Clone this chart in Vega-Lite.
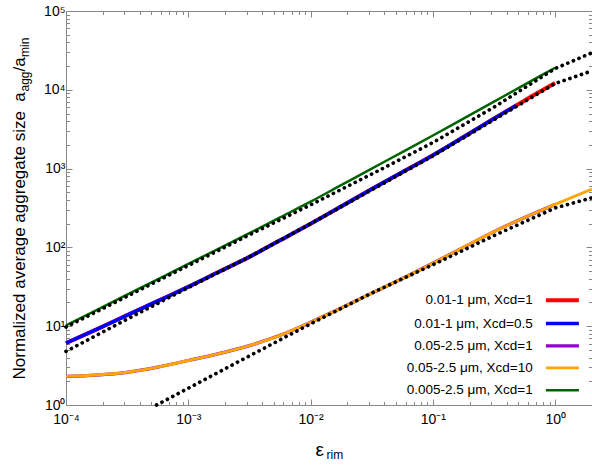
{
  "$schema": "https://vega.github.io/schema/vega-lite/v6.json",
  "width": 526,
  "height": 394,
  "autosize": "none",
  "padding": {"left": 66, "top": 11, "right": 0, "bottom": 61},
  "config": {
    "view": {"stroke": null},
    "font": "Liberation Sans",
    "axis": {
      "labelFont": "Liberation Sans",
      "titleFont": "Liberation Sans",
      "titleFontWeight": "normal",
      "grid": false,
      "domainColor": "#888888",
      "tickColor": "#888888",
      "labelColor": "#000000",
      "titleColor": "#000000",
      "labelFlush": false,
      "labelOverlap": false,
      "labelFontSize": 14,
      "domainWidth": 1,
      "tickWidth": 1
    }
  },
  "datasets": {
    "curves": [
      {"series": "0.005-2.5 μm, Xcd=1", "x": 0.0001, "y": 10.23},
      {"series": "0.005-2.5 μm, Xcd=1", "x": 0.0001778, "y": 16.0},
      {"series": "0.005-2.5 μm, Xcd=1", "x": 0.0003162, "y": 25.1},
      {"series": "0.005-2.5 μm, Xcd=1", "x": 0.0005623, "y": 39.4},
      {"series": "0.005-2.5 μm, Xcd=1", "x": 0.001, "y": 61.7},
      {"series": "0.005-2.5 μm, Xcd=1", "x": 0.001778, "y": 96.6},
      {"series": "0.005-2.5 μm, Xcd=1", "x": 0.003162, "y": 151.4},
      {"series": "0.005-2.5 μm, Xcd=1", "x": 0.005623, "y": 239.9},
      {"series": "0.005-2.5 μm, Xcd=1", "x": 0.01, "y": 380.2},
      {"series": "0.005-2.5 μm, Xcd=1", "x": 0.01778, "y": 616.6},
      {"series": "0.005-2.5 μm, Xcd=1", "x": 0.03162, "y": 1000},
      {"series": "0.005-2.5 μm, Xcd=1", "x": 0.05623, "y": 1622},
      {"series": "0.005-2.5 μm, Xcd=1", "x": 0.1, "y": 2630},
      {"series": "0.005-2.5 μm, Xcd=1", "x": 0.1778, "y": 4315},
      {"series": "0.005-2.5 μm, Xcd=1", "x": 0.3162, "y": 7079},
      {"series": "0.005-2.5 μm, Xcd=1", "x": 0.5623, "y": 11614},
      {"series": "0.005-2.5 μm, Xcd=1", "x": 1, "y": 19055},
      {"series": "0.01-1 μm, Xcd=1", "x": 0.0001, "y": 6.095},
      {"series": "0.01-1 μm, Xcd=1", "x": 0.0001778, "y": 9.12},
      {"series": "0.01-1 μm, Xcd=1", "x": 0.0003162, "y": 13.8},
      {"series": "0.01-1 μm, Xcd=1", "x": 0.0005623, "y": 20.89},
      {"series": "0.01-1 μm, Xcd=1", "x": 0.001, "y": 31.62},
      {"series": "0.01-1 μm, Xcd=1", "x": 0.001778, "y": 48.98},
      {"series": "0.01-1 μm, Xcd=1", "x": 0.003162, "y": 75.86},
      {"series": "0.01-1 μm, Xcd=1", "x": 0.005623, "y": 123.0},
      {"series": "0.01-1 μm, Xcd=1", "x": 0.01, "y": 199.5},
      {"series": "0.01-1 μm, Xcd=1", "x": 0.01778, "y": 331.1},
      {"series": "0.01-1 μm, Xcd=1", "x": 0.03162, "y": 549.5},
      {"series": "0.01-1 μm, Xcd=1", "x": 0.05623, "y": 901.6},
      {"series": "0.01-1 μm, Xcd=1", "x": 0.1, "y": 1479},
      {"series": "0.01-1 μm, Xcd=1", "x": 0.1778, "y": 2512},
      {"series": "0.01-1 μm, Xcd=1", "x": 0.3162, "y": 4315},
      {"series": "0.01-1 μm, Xcd=1", "x": 0.5623, "y": 7328},
      {"series": "0.01-1 μm, Xcd=1", "x": 1, "y": 12162},
      {"series": "0.01-1 μm, Xcd=0.5", "x": 0.0001, "y": 6.095},
      {"series": "0.01-1 μm, Xcd=0.5", "x": 0.0001778, "y": 9.12},
      {"series": "0.01-1 μm, Xcd=0.5", "x": 0.0003162, "y": 13.8},
      {"series": "0.01-1 μm, Xcd=0.5", "x": 0.0005623, "y": 20.89},
      {"series": "0.01-1 μm, Xcd=0.5", "x": 0.001, "y": 31.62},
      {"series": "0.01-1 μm, Xcd=0.5", "x": 0.001778, "y": 48.98},
      {"series": "0.01-1 μm, Xcd=0.5", "x": 0.003162, "y": 75.86},
      {"series": "0.01-1 μm, Xcd=0.5", "x": 0.005623, "y": 123.0},
      {"series": "0.01-1 μm, Xcd=0.5", "x": 0.01, "y": 199.5},
      {"series": "0.01-1 μm, Xcd=0.5", "x": 0.01778, "y": 331.1},
      {"series": "0.01-1 μm, Xcd=0.5", "x": 0.03162, "y": 549.5},
      {"series": "0.01-1 μm, Xcd=0.5", "x": 0.05623, "y": 901.6},
      {"series": "0.01-1 μm, Xcd=0.5", "x": 0.1, "y": 1479},
      {"series": "0.01-1 μm, Xcd=0.5", "x": 0.1778, "y": 2512},
      {"series": "0.01-1 μm, Xcd=0.5", "x": 0.3162, "y": 4315},
      {"series": "0.01-1 μm, Xcd=0.5", "x": 0.48, "y": 6310},
      {"series": "0.05-2.5 μm, Xcd=1", "x": 0.0001, "y": 2.307},
      {"series": "0.05-2.5 μm, Xcd=1", "x": 0.0001778, "y": 2.399},
      {"series": "0.05-2.5 μm, Xcd=1", "x": 0.0003162, "y": 2.6},
      {"series": "0.05-2.5 μm, Xcd=1", "x": 0.0005623, "y": 3.02},
      {"series": "0.05-2.5 μm, Xcd=1", "x": 0.001, "y": 3.673},
      {"series": "0.05-2.5 μm, Xcd=1", "x": 0.001778, "y": 4.487},
      {"series": "0.05-2.5 μm, Xcd=1", "x": 0.003162, "y": 5.675},
      {"series": "0.05-2.5 μm, Xcd=1", "x": 0.005623, "y": 7.656},
      {"series": "0.05-2.5 μm, Xcd=1", "x": 0.01, "y": 11.22},
      {"series": "0.05-2.5 μm, Xcd=1", "x": 0.01778, "y": 16.98},
      {"series": "0.05-2.5 μm, Xcd=1", "x": 0.03162, "y": 26.3},
      {"series": "0.05-2.5 μm, Xcd=1", "x": 0.05623, "y": 40.27},
      {"series": "0.05-2.5 μm, Xcd=1", "x": 0.1, "y": 63.1},
      {"series": "0.05-2.5 μm, Xcd=1", "x": 0.1778, "y": 100},
      {"series": "0.05-2.5 μm, Xcd=1", "x": 0.3162, "y": 158.5},
      {"series": "0.05-2.5 μm, Xcd=1", "x": 0.5623, "y": 239.9},
      {"series": "0.05-2.5 μm, Xcd=1", "x": 1, "y": 350.8},
      {"series": "0.05-2.5 μm, Xcd=10", "x": 0.0001, "y": 2.307},
      {"series": "0.05-2.5 μm, Xcd=10", "x": 0.0001778, "y": 2.399},
      {"series": "0.05-2.5 μm, Xcd=10", "x": 0.0003162, "y": 2.6},
      {"series": "0.05-2.5 μm, Xcd=10", "x": 0.0005623, "y": 3.02},
      {"series": "0.05-2.5 μm, Xcd=10", "x": 0.001, "y": 3.673},
      {"series": "0.05-2.5 μm, Xcd=10", "x": 0.001778, "y": 4.487},
      {"series": "0.05-2.5 μm, Xcd=10", "x": 0.003162, "y": 5.675},
      {"series": "0.05-2.5 μm, Xcd=10", "x": 0.005623, "y": 7.656},
      {"series": "0.05-2.5 μm, Xcd=10", "x": 0.01, "y": 11.22},
      {"series": "0.05-2.5 μm, Xcd=10", "x": 0.01778, "y": 16.98},
      {"series": "0.05-2.5 μm, Xcd=10", "x": 0.03162, "y": 26.3},
      {"series": "0.05-2.5 μm, Xcd=10", "x": 0.05623, "y": 40.27},
      {"series": "0.05-2.5 μm, Xcd=10", "x": 0.1, "y": 63.1},
      {"series": "0.05-2.5 μm, Xcd=10", "x": 0.1778, "y": 100},
      {"series": "0.05-2.5 μm, Xcd=10", "x": 0.3162, "y": 158.5},
      {"series": "0.05-2.5 μm, Xcd=10", "x": 0.5623, "y": 239.9},
      {"series": "0.05-2.5 μm, Xcd=10", "x": 1, "y": 350.8},
      {"series": "0.05-2.5 μm, Xcd=10", "x": 2, "y": 549.5}
    ],
    "dots": [
      {"s": "d1", "x": 0.0001, "y": 9.772},
      {"s": "d1", "x": 0.0003162, "y": 23.99},
      {"s": "d1", "x": 0.001, "y": 58.88},
      {"s": "d1", "x": 0.003162, "y": 144.5},
      {"s": "d1", "x": 0.01, "y": 346.7},
      {"s": "d1", "x": 0.03162, "y": 851.1},
      {"s": "d1", "x": 0.1, "y": 2138},
      {"s": "d1", "x": 0.3162, "y": 6026},
      {"s": "d1", "x": 1, "y": 18621},
      {"s": "d1", "x": 2, "y": 29512},
      {"s": "d2", "x": 0.0001, "y": 4.786},
      {"s": "d2", "x": 0.0003162, "y": 12.3},
      {"s": "d2", "x": 0.001, "y": 30.9},
      {"s": "d2", "x": 0.003162, "y": 75.86},
      {"s": "d2", "x": 0.01, "y": 199.5},
      {"s": "d2", "x": 0.03162, "y": 537},
      {"s": "d2", "x": 0.1, "y": 1445},
      {"s": "d2", "x": 0.3162, "y": 4169},
      {"s": "d2", "x": 1, "y": 12023},
      {"s": "d2", "x": 2, "y": 17378},
      {"s": "d3", "x": 0.00055, "y": 1},
      {"s": "d3", "x": 0.001, "y": 1.633},
      {"s": "d3", "x": 0.003162, "y": 4.198},
      {"s": "d3", "x": 0.01, "y": 10.72},
      {"s": "d3", "x": 0.03162, "y": 26.3},
      {"s": "d3", "x": 0.1, "y": 60.26},
      {"s": "d3", "x": 0.3162, "y": 141.3},
      {"s": "d3", "x": 1, "y": 316.2},
      {"s": "d3", "x": 2, "y": 426.6}
    ]
  },
  "resolve": {"axis": {"x": "independent", "y": "independent"}},
  "layer": [
    {
      "encoding": {
        "x": {
          "field": "x", "type": "quantitative",
          "scale": {"type": "log", "domain": [0.0001, 2], "nice": false},
          "axis": {
            "orient": "bottom",
            "values": [0.0001,0.0002,0.0003,0.0004,0.0005,0.0006,0.0007,0.0008,0.0009,0.001,0.002,0.003,0.004,0.005,0.006,0.007,0.008,0.009,0.01,0.02,0.03,0.04,0.05,0.06,0.07,0.08,0.09,0.1,0.2,0.3,0.4,0.5,0.6,0.7,0.8,0.9,1,2],
            "tickSize": {"condition": {"test": "abs(log(datum.value)/LN10 - round(log(datum.value)/LN10)) < 0.001", "value": -6}, "value": -3.5},
            "labelExpr": "abs(log(datum.value)/LN10 - round(log(datum.value)/LN10)) < 0.001 ? ['10⁻⁴','10⁻³','10⁻²','10⁻¹','10⁰'][round(log(datum.value)/LN10)+4] : ''",
            "labelPadding": 13,
            "title": "ε",
            "titleFontSize": 19,
            "titleX": 249, "titleY": 50,
            "titleAlign": "left", "titleBaseline": "alphabetic", "titleAngle": 0
          }
        },
        "y": {
          "field": "y", "type": "quantitative",
          "scale": {"type": "log", "domain": [1, 100000], "nice": false},
          "axis": {
            "orient": "left",
            "values": [1,2,3,4,5,6,7,8,9,10,20,30,40,50,60,70,80,90,100,200,300,400,500,600,700,800,900,1000,2000,3000,4000,5000,6000,7000,8000,9000,10000,20000,30000,40000,50000,60000,70000,80000,90000,100000],
            "tickSize": {"condition": {"test": "abs(log(datum.value)/LN10 - round(log(datum.value)/LN10)) < 0.001", "value": -6}, "value": -3.5},
            "labelExpr": "abs(log(datum.value)/LN10 - round(log(datum.value)/LN10)) < 0.001 ? ['10⁰','10¹','10²','10³','10⁴','10⁵'][round(log(datum.value)/LN10)] : ''",
            "labelPadding": 7,
            "title": "Normalized average aggregate size\u00a0\u00a0a",
            "titleFontSize": 17,
            "titleX": -42, "titleY": 368,
            "titleAlign": "left", "titleBaseline": "alphabetic", "titleAngle": 270
          }
        }
      },
      "layer": [
        {
          "data": {"name": "curves"},
          "transform": [{"filter": "datum.series == '0.01-1 μm, Xcd=1' || datum.series == '0.05-2.5 μm, Xcd=1'"}],
          "mark": {"type": "line", "interpolate": "monotone", "strokeCap": "butt"},
          "encoding": {
            "color": {
              "field": "series", "type": "nominal",
              "scale": {"domain": ["0.01-1 μm, Xcd=1", "0.01-1 μm, Xcd=0.5", "0.05-2.5 μm, Xcd=1", "0.05-2.5 μm, Xcd=10", "0.005-2.5 μm, Xcd=1"], "range": ["#ff0000", "#0000ff", "#9400d3", "#ffa500", "#006400"]},
              "legend": {"orient": "none", "legendX": 489.4, "legendY": 282.2, "title": null, "direction": "vertical", "symbolType": "M-3.3,0H3.3", "symbolSize": 100, "symbolFillColor": "transparent", "symbolStrokeWidth": {"expr": "datum.value == '0.01-1 μm, Xcd=1' || datum.value == '0.05-2.5 μm, Xcd=1' ? 4.5 : 2.5"}, "symbolOffset": 0, "labelAlign": "right", "labelOffset": -36.7, "rowPadding": 7.3, "labelFontSize": 13.5, "labelFont": "Liberation Sans", "labelColor": "#000000", "padding": 0, "labelLimit": 300}
            },
            "strokeWidth": {
              "field": "series", "type": "nominal",
              "scale": {"domain": ["0.01-1 μm, Xcd=1", "0.01-1 μm, Xcd=0.5", "0.05-2.5 μm, Xcd=1", "0.05-2.5 μm, Xcd=10", "0.005-2.5 μm, Xcd=1"], "range": [4, 2.5, 4.2, 2.5, 2.5]},
              "legend": null
            }
          }
        },
        {
          "data": {"name": "curves"},
          "transform": [{"filter": "datum.series != '0.01-1 μm, Xcd=1' && datum.series != '0.05-2.5 μm, Xcd=1'"}],
          "mark": {"type": "line", "interpolate": "monotone", "strokeCap": "butt"},
          "encoding": {
            "color": {"field": "series", "type": "nominal"},
            "strokeWidth": {"field": "series", "type": "nominal", "legend": null}
          }
        },
        {
          "data": {"name": "dots"},
          "mark": {"type": "line", "color": "#000000", "strokeWidth": 3.7, "strokeCap": "round", "strokeDash": [0.1, 6]},
          "encoding": {"detail": {"field": "s"}}
        }
      ]
    },
    {
      "data": {"name": "dots"},
      "mark": {"type": "line", "opacity": 0},
      "encoding": {
        "detail": {"field": "s"},
        "x": {
          "field": "x", "type": "quantitative",
          "scale": {"type": "log", "domain": [0.0001, 2], "nice": false},
          "axis": {
            "orient": "top",
            "values": [0.0001,0.0002,0.0003,0.0004,0.0005,0.0006,0.0007,0.0008,0.0009,0.001,0.002,0.003,0.004,0.005,0.006,0.007,0.008,0.009,0.01,0.02,0.03,0.04,0.05,0.06,0.07,0.08,0.09,0.1,0.2,0.3,0.4,0.5,0.6,0.7,0.8,0.9,1,2],
            "tickSize": {"condition": {"test": "abs(log(datum.value)/LN10 - round(log(datum.value)/LN10)) < 0.001", "value": -6}, "value": -3.5},
            "labels": false,
            "title": "rim",
            "titleFontSize": 12,
            "titleX": 260, "titleY": 447.5,
            "titleAlign": "left", "titleBaseline": "alphabetic", "titleAngle": 0
          }
        },
        "y": {
          "field": "y", "type": "quantitative",
          "scale": {"type": "log", "domain": [1, 100000], "nice": false},
          "axis": {
            "orient": "right",
            "values": [1,2,3,4,5,6,7,8,9,10,20,30,40,50,60,70,80,90,100,200,300,400,500,600,700,800,900,1000,2000,3000,4000,5000,6000,7000,8000,9000,10000,20000,30000,40000,50000,60000,70000,80000,90000,100000],
            "tickSize": {"condition": {"test": "abs(log(datum.value)/LN10 - round(log(datum.value)/LN10)) < 0.001", "value": -6}, "value": -3.5},
            "labels": false,
            "title": "agg",
            "titleFontSize": 12,
            "titleX": -564, "titleY": 80,
            "titleAlign": "left", "titleBaseline": "alphabetic", "titleAngle": 270
          }
        }
      }
    },
    {
      "data": {"name": "dots"},
      "mark": {"type": "line", "opacity": 0},
      "encoding": {
        "detail": {"field": "s"},
        "x": {
          "field": "x", "type": "quantitative",
          "scale": {"type": "log", "domain": [0.0001, 2], "nice": false},
          "axis": {
            "orient": "bottom",
            "domain": false, "ticks": false, "labels": false,
            "title": "min",
            "titleFontSize": 12,
            "titleX": -38, "titleY": -348.5,
            "titleAlign": "left", "titleBaseline": "alphabetic", "titleAngle": 270
          }
        },
        "y": {
          "field": "y", "type": "quantitative",
          "scale": {"type": "log", "domain": [1, 100000], "nice": false},
          "axis": {
            "orient": "left",
            "domain": false, "ticks": false, "labels": false,
            "title": "/a",
            "titleFontSize": 17,
            "titleX": -42, "titleY": 60,
            "titleAlign": "left", "titleBaseline": "alphabetic", "titleAngle": 270
          }
        }
      }
    }
  ]
}
